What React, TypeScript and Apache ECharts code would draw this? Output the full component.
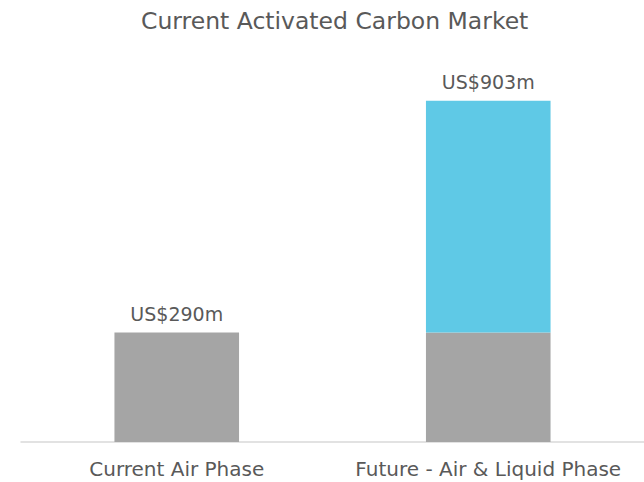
import React, { useEffect, useRef } from "react";
import * as echarts from "echarts";

const categories = ["Current Air Phase", "Future - Air & Liquid Phase"];
const airValues = [290, 290];
const liquidValues: (number | null)[] = [null, 613];
const totals = [290, 903];
const titleText = "Current Activated Carbon Market";

const FONT = "DejaVu Sans";

export default function App() {
  const ref = useRef<HTMLDivElement>(null);
  useEffect(() => {
    document.body.style.margin = "0";
    const chart = echarts.init(ref.current!, undefined, { renderer: "svg" });
    const labelFor = (idx: number) => "US$" + totals[idx] + "m";
    chart.setOption({
      animation: false,
      backgroundColor: "#ffffff",
      title: {
        text: titleText,
        left: 136,
        top: 4,
        textStyle: { fontFamily: FONT, fontSize: 23.5, fontWeight: "normal", color: "#595959" },
      },
      grid: { left: 21, right: -1, top: 64, bottom: 40, containLabel: false },
      xAxis: {
        type: "category",
        data: categories,
        axisLine: { lineStyle: { color: "#D9D9D9", width: 1.5 } },
        axisTick: { show: false },
        axisLabel: {
          interval: 0,
          hideOverlap: false,
          fontFamily: FONT,
          fontSize: 20,
          color: "#595959",
          margin: 17,
        },
      },
      yAxis: {
        type: "value",
        min: 0,
        max: 1000,
        show: false,
        splitLine: { show: false },
      },
      series: [
        {
          type: "bar",
          stack: "total",
          barWidth: "40%",
          data: airValues.map((v, i) => ({
            value: v,
            label: {
              show: liquidValues[i] == null,
              position: "top",
              distance: 9,
              formatter: () => labelFor(i),
              fontFamily: FONT,
              fontSize: 19,
              color: "#595959",
            },
          })),
          itemStyle: { color: "#A5A5A5" },
        },
        {
          type: "bar",
          stack: "total",
          barWidth: "40%",
          data: liquidValues.map((v, i) => ({
            value: v == null ? "-" : v,
            label: {
              show: v != null,
              position: "top",
              distance: 9,
              formatter: () => labelFor(i),
              fontFamily: FONT,
              fontSize: 19,
              color: "#595959",
            },
          })),
          itemStyle: { color: "#5FC9E6" },
        },
      ],
    });
    return () => chart.dispose();
  }, []);
  return <div ref={ref} style={{ width: 644, height: 482 }} />;
}
